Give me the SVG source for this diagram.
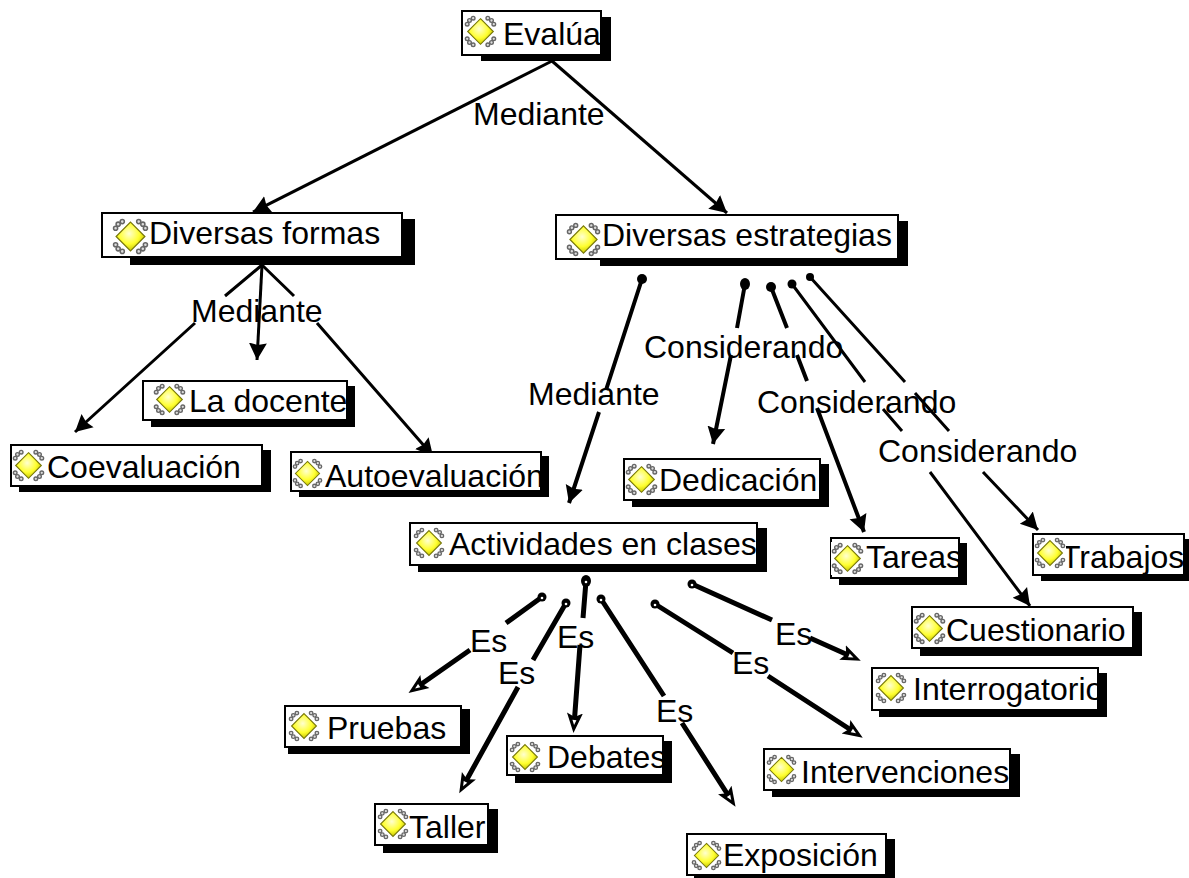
<svg xmlns="http://www.w3.org/2000/svg" width="1189" height="878" viewBox="0 0 1189 878">
<style>
text{font-family:"Liberation Sans",Arial,sans-serif;font-size:32px;fill:#000}
.s{fill:#000}.b{fill:#fff;stroke:#000;stroke-width:2}
.l{fill:none;stroke:#000}
.t3{stroke-width:3}.t4{stroke-width:4}.t5{stroke-width:5}
.p{marker-end:url(#a)}.q{marker-end:url(#o)}
</style>
<defs>
<radialGradient id="g" cx="0.45" cy="0.4" r="0.6"><stop offset="0" stop-color="#ffffd0"/><stop offset="0.6" stop-color="#ffff30"/><stop offset="1" stop-color="#c8c800"/></radialGradient>
<marker id="a" markerUnits="userSpaceOnUse" markerWidth="24" markerHeight="24" refX="17" refY="12" orient="auto"><path d="M0 3L17 12L0 21L2 12Z"/></marker>
<marker id="o" markerUnits="userSpaceOnUse" markerWidth="24" markerHeight="20" refX="6" refY="10" orient="auto"><path d="M0 2L20 10L0 18L4 10Z"/><path d="M7 8L12 10L7 12Z" fill="#fff"/></marker>
<symbol id="i" viewBox="0 0 36 36">
<rect width="36" height="36" fill="#fff"/>
<g fill="#ddd" stroke="#666" stroke-width="1.5"><circle cx="10" cy="3.5" r="2"/><circle cx="3.5" cy="10" r="2"/><circle cx="6" cy="6" r="2"/><circle cx="26" cy="3.5" r="2"/><circle cx="32.5" cy="10" r="2"/><circle cx="30" cy="6" r="2"/><circle cx="10" cy="32.5" r="2"/><circle cx="3.5" cy="26" r="2"/><circle cx="6" cy="30" r="2"/><circle cx="26" cy="32.5" r="2"/><circle cx="32.5" cy="26" r="2"/><circle cx="30" cy="30" r="2"/></g>
<path d="M18 4L32 18L18 32L4 18Z" fill="url(#g)" stroke="#77770a" stroke-width="1.2"/>
</symbol>
</defs>
<g id="connectors">
<path class="l t3 p" d="M552 61L253 212"/>
<path class="l t3 p" d="M552 61L727 213"/>
<path class="l t3 p" d="M262 265L225 296M195 323L75 432"/>
<path class="l t3 p" d="M262 265L257 360"/>
<path class="l t3 p" d="M262 265L294 296M317 323L433 456"/>
<path class="l t4 p" d="M642 279L606 390M599 412L569 503"/>
<path class="l t4 p" d="M745 284L737 328M731 355L713 444"/>
<path class="l t4 p" d="M771 287L787 328M797 355L807 381M817 408L864 532"/>
<path class="l t3 p" d="M792 284L865 382M883 409L902 431M930 472L1030 606"/>
<path class="l t3 p" d="M810 277L905 382M915 393L949 431M983 472L1038 530"/>
<path class="l t5 q" d="M542 597L506 623M470 650L420 685"/>
<path class="l t5 q" d="M566 603L533 660M518 687L466 781"/>
<path class="l t5 q" d="M586 581L583 618M580 645L574.500 719"/>
<path class="l t5 q" d="M601 599L664 696M682 723L728 795"/>
<path class="l t5 q" d="M655 604L733 653M768 676L851 730"/>
<path class="l t5 q" d="M692 584L772 620M810 638L848 655"/>
<g fill="#000"><circle cx="642" cy="279" r="5"/><ellipse cx="745" cy="284" rx="5" ry="6"/><circle cx="771" cy="287" r="5"/><circle cx="792" cy="284" r="4.5"/><circle cx="810" cy="277" r="4"/><circle cx="542" cy="597" r="4.5"/><circle cx="566" cy="603" r="4.5"/><ellipse cx="586" cy="581" rx="5" ry="6"/><circle cx="601" cy="599" r="4.5"/><circle cx="655" cy="604" r="4.5"/><circle cx="692" cy="584" r="4.5"/></g>
<g fill="#fff"><circle cx="542" cy="598" r="1.3"/><circle cx="566" cy="604" r="1.3"/><circle cx="586" cy="582" r="1.3"/><circle cx="601" cy="600" r="1.3"/><circle cx="655" cy="605" r="1.3"/><circle cx="692" cy="585" r="1.3"/></g>
</g>
<g id="labels">
<text x="473" y="125">Mediante</text>
<text x="191" y="322">Mediante</text>
<text x="528" y="405">Mediante</text>
<text x="644" y="358">Considerando</text>
<text x="757" y="413">Considerando</text>
<text x="878" y="462">Considerando</text>
<text x="470" y="652">Es</text>
<text x="498" y="684">Es</text>
<text x="557" y="648">Es</text>
<text x="656" y="722">Es</text>
<text x="732" y="674">Es</text>
<text x="775" y="645">Es</text>
</g>
<g id="n1"><rect class="s" x="481" y="17" width="130" height="44"/><rect class="b" x="462" y="11" width="139" height="44"/><text x="503" y="45">Evalúa</text><use href="#i" x="464" y="15" width="33" height="33"/></g>
<g id="n2"><rect class="s" x="130" y="219" width="285" height="46"/><rect class="b" x="102" y="213" width="300" height="44"/><text x="149" y="244">Diversas formas</text><use href="#i" x="112" y="218" width="37" height="37"/></g>
<g id="n3"><rect class="s" x="600" y="221" width="308" height="45"/><rect class="b" x="556" y="215" width="342" height="44"/><text x="602" y="246">Diversas estrategias</text><use href="#i" x="566" y="222" width="35" height="35"/></g>
<g id="n4"><rect class="s" x="151" y="386" width="204" height="41"/><rect class="b" x="143" y="381" width="204" height="39"/><text x="189" y="412">La docente</text><use href="#i" x="153" y="383" width="33" height="33"/></g>
<g id="n5"><rect class="s" x="19" y="450" width="252" height="42"/><rect class="b" x="11" y="445" width="251" height="41"/><text x="47" y="478">Coevaluación</text><use href="#i" x="12" y="449" width="33" height="33"/></g>
<g id="n6"><rect class="s" x="299" y="456" width="250" height="41"/><rect class="b" x="291" y="452" width="250" height="39"/><text x="325" y="487">Autoevaluación</text><use href="#i" x="292" y="458" width="31" height="31"/></g>
<g id="n7"><rect class="s" x="632" y="464" width="197" height="43"/><rect class="b" x="624" y="459" width="196" height="41"/><text x="659" y="491">Dedicación</text><use href="#i" x="625" y="463" width="33" height="33"/></g>
<g id="n8"><rect class="s" x="418" y="528" width="349" height="44"/><rect class="b" x="410" y="523" width="347" height="42"/><text x="449" y="555">Actividades en clases</text><use href="#i" x="413" y="527" width="32" height="32"/></g>
<g id="n9"><rect class="s" x="839" y="543" width="128" height="42"/><rect class="b" x="831" y="538" width="128" height="40"/><text x="866" y="568">Tareas</text><use href="#i" x="831" y="542" width="33" height="33"/></g>
<g id="n10"><rect class="s" x="1041" y="539" width="148" height="42"/><rect class="b" x="1033" y="534" width="151" height="41"/><text x="1061" y="568">Trabajos</text><use href="#i" x="1034" y="537" width="32" height="32"/></g>
<g id="n11"><rect class="s" x="920" y="612" width="222" height="44"/><rect class="b" x="912" y="607" width="221" height="41"/><text x="946" y="641">Cuestionario</text><use href="#i" x="913" y="612" width="33" height="33"/></g>
<g id="n12"><rect class="s" x="879" y="673" width="228" height="44"/><rect class="b" x="872" y="668" width="226" height="42"/><text x="913" y="700">Interrogatorio</text><use href="#i" x="875" y="672" width="32" height="32"/></g>
<g id="n13"><rect class="s" x="288" y="709" width="182" height="45"/><rect class="b" x="285" y="706" width="176" height="41"/><text x="327" y="739">Pruebas</text><use href="#i" x="288" y="710" width="32" height="32"/></g>
<g id="n14"><rect class="s" x="515" y="741" width="157" height="42"/><rect class="b" x="507" y="736" width="156" height="39"/><text x="547" y="768">Debates</text><use href="#i" x="509" y="741" width="32" height="32"/></g>
<g id="n15"><rect class="s" x="772" y="754" width="248" height="43"/><rect class="b" x="764" y="749" width="246" height="41"/><text x="801" y="783">Intervenciones</text><use href="#i" x="766" y="754" width="31" height="31"/></g>
<g id="n16"><rect class="s" x="383" y="809" width="115" height="44"/><rect class="b" x="375" y="804" width="113" height="41"/><text x="409" y="838">Taller</text><use href="#i" x="377" y="808" width="32" height="32"/></g>
<g id="n17"><rect class="s" x="694" y="839" width="201" height="39"/><rect class="b" x="687" y="834" width="199" height="41"/><text x="723" y="866">Exposición</text><use href="#i" x="691" y="840" width="31" height="31"/></g>
</svg>
